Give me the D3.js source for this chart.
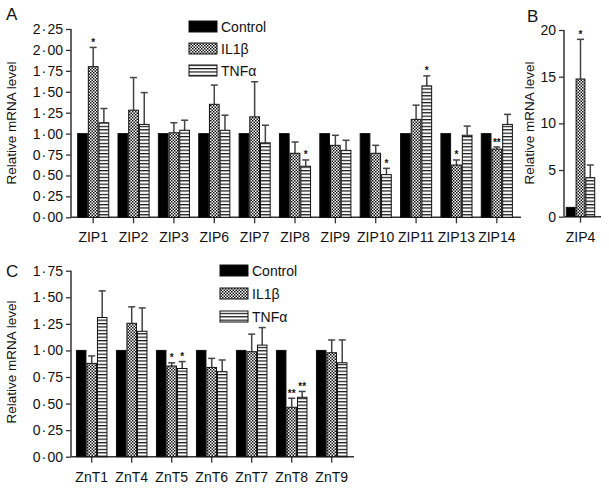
<!DOCTYPE html>
<html><head><meta charset="utf-8">
<script src="https://cdn.jsdelivr.net/npm/d3@7/dist/d3.min.js"></script>
<style>body{margin:0;background:#fff}svg{display:block}text{font-family:"Liberation Sans",Arial,sans-serif;fill:#111}</style>
</head><body><svg id="c" width="609" height="489"></svg>
<script>
// ---------- data ----------
const seriesNames = ["Control", "IL1\u03b2", "TNF\u03b1"];

const zipGenes = ["ZIP1","ZIP2","ZIP3","ZIP6","ZIP7","ZIP8","ZIP9","ZIP10","ZIP11","ZIP13","ZIP14"];
const zipControl = [1,1,1,1,1,1,1,1,1,1,1];
const zipIL1b    = [1.80,1.28,1.01,1.35,1.20,0.765,0.86,0.765,1.17,0.625,0.815];
const zipIL1bErr = [0.23,0.39,0.12,0.23,0.42,0.135,0.12,0.095,0.17,0.06,0.025];
const zipTNF     = [1.13,1.11,1.04,1.04,0.89,0.61,0.80,0.51,1.57,0.98,1.11];
const zipTNFErr  = [0.17,0.38,0.12,0.18,0.21,0.075,0.12,0.075,0.12,0.11,0.12];
const zipIL1bSig = ["*","","","","","","","","","*","**"];
const zipTNFSig  = ["","","","","","*","","*","*","",""];
const zipTicks   = [0,0.25,0.5,0.75,1,1.25,1.5,1.75,2,2.25];

const zip4Genes = ["ZIP4"];
const zip4Control = [1.0];
const zip4IL1b = [14.75];
const zip4IL1bErr = [4.25];
const zip4TNF = [4.18];
const zip4TNFErr = [1.36];
const zip4IL1bSig = ["*"];
const zip4TNFSig = [""];
const zip4Ticks = [0,5,10,15,20];

const zntGenes = ["ZnT1","ZnT4","ZnT5","ZnT6","ZnT7","ZnT8","ZnT9"];
const zntControl = [1,1,1,1,1,1,1];
const zntIL1b    = [0.878,1.255,0.853,0.84,0.988,0.465,0.978];
const zntIL1bErr = [0.07,0.155,0.03,0.085,0.165,0.085,0.12];
const zntTNF     = [1.31,1.18,0.83,0.80,1.05,0.559,0.884];
const zntTNFErr  = [0.25,0.22,0.065,0.11,0.165,0.055,0.215];
const zntIL1bSig = ["","","*","","","**",""];
const zntTNFSig  = ["","","*","","","**",""];
const zntTicks   = [0,0.25,0.5,0.75,1,1.25,1.5,1.75];

// ---------- drawing ----------
const svg = d3.select("#c");
const defs = svg.append("defs");
const chk = defs.append("pattern").attr("id","chk").attr("patternUnits","userSpaceOnUse").attr("width",3).attr("height",3);
chk.append("rect").attr("width",3).attr("height",3).attr("fill","#fff");
chk.append("rect").attr("width",1.5).attr("height",1.5).attr("fill","#111");
chk.append("rect").attr("x",1.5).attr("y",1.5).attr("width",1.5).attr("height",1.5).attr("fill","#111");
const str = defs.append("pattern").attr("id","str").attr("patternUnits","userSpaceOnUse").attr("width",4).attr("height",3.4);
str.append("rect").attr("width",4).attr("height",3.4).attr("fill","#fff");
str.append("rect").attr("y",0).attr("width",4).attr("height",1.2).attr("fill","#111");
const fills = ["#000","url(#chk)","url(#str)"];
const AX = "#333";

const decFmt = d => d3.format(".2f")(d).replace(".", "\u200a\u00b7\u200a");

function panel(o){
  const g = svg.append("g");
  const y = d3.scaleLinear().domain(o.ydom).range([o.y0, o.y1]);
  const x = d3.scaleBand().domain(o.genes).range(o.xr).paddingInner(0).paddingOuter(0);
  const bw = o.bw;
  const xs = d3.scaleBand().domain(d3.range(3)).range([0, 3*bw]);
  // y axis
  const ya = g.append("g").attr("transform",`translate(${o.axX},0)`)
    .call(d3.axisLeft(y).tickValues(o.ticks).tickFormat(o.fmt).tickSize(5).tickPadding(3));
  ya.select(".domain").attr("stroke",AX).attr("stroke-width",1.5).attr("d",`M0,${o.y0}V${o.y1}`);
  ya.selectAll(".tick line").attr("stroke",AX).attr("stroke-width",1.3);
  ya.selectAll(".tick text").attr("font-size",14).attr("fill","#111").style("font-family","Liberation Sans, Arial, sans-serif");
  // x axis line
  g.append("line").attr("x1",o.axX).attr("x2",o.axEnd).attr("y1",o.y0).attr("y2",o.y0).attr("stroke",AX).attr("stroke-width",1.5);
  const xa = g.append("g").attr("transform",`translate(0,${o.y0})`)
    .call(d3.axisBottom(x).tickSize(6).tickPadding(9));
  xa.select(".domain").remove();
  xa.selectAll(".tick line").attr("stroke",AX).attr("stroke-width",1.3);
  xa.selectAll(".tick text").attr("font-size",14).attr("fill","#111").style("font-family","Liberation Sans, Arial, sans-serif");
  // bars
  const series = [o.ctrl, o.il, o.tnf];
  const errs = [null, o.ilErr, o.tnfErr];
  const sigs = [null, o.ilSig, o.tnfSig];
  o.genes.forEach((gene,i)=>{
    const cx = x(gene) + x.bandwidth()/2 - 1.5*bw;
    series.forEach((s,k)=>{
      const bx = cx + xs(k);
      const v = s[i];
      if (errs[k]) {
        const top = y(v + errs[k][i]);
        g.append("line").attr("x1",bx+bw/2).attr("x2",bx+bw/2).attr("y1",y(v)).attr("y2",top).attr("stroke","#444").attr("stroke-width",1.5);
        g.append("line").attr("x1",bx+bw/2-3.5).attr("x2",bx+bw/2+3.5).attr("y1",top).attr("y2",top).attr("stroke","#444").attr("stroke-width",1.5);
        if (sigs[k][i]) g.append("text").attr("x",bx+bw/2).attr("y",top-1.5).attr("text-anchor","middle").attr("font-size",10).attr("font-weight","bold").text(sigs[k][i]);
      }
      g.append("rect").attr("x",bx+0.5).attr("y",y(v)).attr("width",bw-1).attr("height",y(o.ydom[0])-y(v))
        .attr("fill",fills[k]).attr("stroke","#111").attr("stroke-width",1);
    });
  });
  // y label
  g.append("text").attr("transform",`translate(${o.labX},${o.labY}) rotate(-90)`).attr("text-anchor","middle")
    .attr("font-size",13.5).text("Relative mRNA level");
  // panel letter
  g.append("text").attr("x",o.letX).attr("y",o.letY).attr("font-size",17).text(o.letter);
  // legend
  if (o.leg) {
    seriesNames.forEach((n,k)=>{
      const ly = o.leg[1] + k*o.leg[2];
      g.append("rect").attr("x",o.leg[0]).attr("y",ly).attr("width",28).attr("height",11).attr("fill",fills[k]).attr("stroke","#111").attr("stroke-width",1);
      g.append("text").attr("x",o.leg[0]+32).attr("y",ly+10.5).attr("font-size",14).text(n);
    });
  }
}

panel({genes:zipGenes, ctrl:zipControl, il:zipIL1b, ilErr:zipIL1bErr, tnf:zipTNF, tnfErr:zipTNFErr,
  ilSig:zipIL1bSig, tnfSig:zipTNFSig, ticks:zipTicks, fmt:decFmt, ydom:[0,2.25], y0:217.3, y1:29,
  xr:[73,517], bw:10.7, axX:71, axEnd:521, labX:16, labY:123, letX:6, letY:20, letter:"A", leg:[189,21,22]});

panel({genes:zip4Genes, ctrl:zip4Control, il:zip4IL1b, ilErr:zip4IL1bErr, tnf:zip4TNF, tnfErr:zip4TNFErr,
  ilSig:zip4IL1bSig, tnfSig:zip4TNFSig, ticks:zip4Ticks, fmt:d3.format("d"), ydom:[0,20], y0:216.7, y1:30,
  xr:[563,598], bw:9.8, axX:564, axEnd:601, labX:534, labY:123, letX:527, letY:22, letter:"B", leg:null});

panel({genes:zntGenes, ctrl:zntControl, il:zntIL1b, ilErr:zntIL1bErr, tnf:zntTNF, tnfErr:zntTNFErr,
  ilSig:zntIL1bSig, tnfSig:zntTNFSig, ticks:zntTicks, fmt:decFmt, ydom:[0,1.75], y0:456.7, y1:270.7,
  xr:[71.7,351.7], bw:10.5, axX:71, axEnd:354, labX:16, labY:362, letX:6, letY:277, letter:"C", leg:[220,265,23]});
</script></body></html>
